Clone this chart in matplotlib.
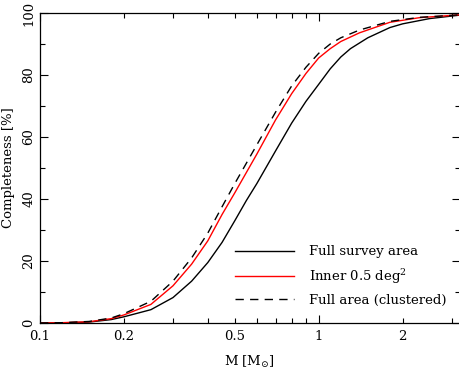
import matplotlib
matplotlib.use("Agg")
import matplotlib.pyplot as plt
from matplotlib.ticker import LogLocator, FixedLocator, FuncFormatter, MultipleLocator

plt.rcParams['font.family'] = ['DejaVu Serif']
plt.rcParams['mathtext.fontset'] = 'dejavuserif'

# Mass grid [Msun]
mass_full = [0.10, 0.12, 0.15, 0.18, 0.20, 0.25, 0.30, 0.35, 0.40, 0.45, 0.50, 0.55, 0.60,
             0.70, 0.80, 0.90, 1.0, 1.1, 1.2, 1.3, 1.5, 1.8, 2.0, 2.5, 3.2]
compl_full = [0.0, 0.05, 0.3, 1.1, 2.0, 4.3, 8.2, 13.5, 19.5, 26.0, 33.0, 39.5, 45.0,
              55.5, 64.5, 71.5, 77.0, 82.0, 85.8, 88.5, 92.0, 95.3, 96.5, 98.2, 99.3]

mass_inner = [0.10, 0.12, 0.15, 0.18, 0.20, 0.25, 0.30, 0.35, 0.40, 0.45, 0.50, 0.60,
              0.70, 0.80, 0.90, 1.0, 1.1, 1.2, 1.4, 1.8, 2.3, 3.2]
compl_inner = [0.0, 0.1, 0.4, 1.4, 2.6, 6.0, 12.0, 19.0, 26.5, 35.0, 42.0, 54.5,
               65.5, 74.0, 80.5, 85.5, 88.5, 90.8, 93.6, 97.0, 98.5, 99.4]

mass_clust = [0.10, 0.12, 0.15, 0.18, 0.20, 0.25, 0.30, 0.35, 0.40, 0.45, 0.50, 0.60,
              0.70, 0.80, 0.90, 1.0, 1.1, 1.2, 1.4, 1.8, 2.3, 3.2]
compl_clust = [0.0, 0.1, 0.5, 1.6, 3.0, 7.0, 13.5, 21.0, 29.0, 37.5, 45.0, 57.5,
               68.0, 76.5, 82.5, 87.0, 90.0, 92.0, 94.5, 97.3, 98.6, 99.4]

labels = ["Full survey area", r"Inner 0.5 deg$^2$", "Full area (clustered)"]
xtick_vals = [0.1, 0.2, 0.5, 1, 2]
xtick_labels = ["0.1", "0.2", "0.5", "1", "2"]
ytick_vals = [0, 20, 40, 60, 80, 100]

fig = plt.figure(figsize=(4.6, 3.71), dpi=100)
ax = fig.add_axes([40/460, 48/371, 419.5/460, 310/371])

ax.plot(mass_full, compl_full, color='black', lw=1.0, label=labels[0])
ax.plot(mass_inner, compl_inner, color='red', lw=1.0, label=labels[1])
ax.plot(mass_clust, compl_clust, color='black', lw=1.0, ls=(0, (6, 4.5)), label=labels[2])

ax.set_xscale('log')
ax.set_xlim(0.1, 3.2)
ax.set_ylim(0, 100)


def fmt(v, pos=None):
    for val, lab in zip(xtick_vals, xtick_labels):
        if abs(v - val) < 1e-6 * val:
            return lab
    return ""


ax.xaxis.set_major_locator(LogLocator(base=10, subs=[1.0]))
ax.xaxis.set_major_formatter(FuncFormatter(fmt))
ax.xaxis.set_minor_locator(LogLocator(base=10, subs=[2, 3, 4, 5, 6, 7, 8, 9]))
ax.xaxis.set_minor_formatter(FuncFormatter(fmt))
ax.yaxis.set_major_locator(FixedLocator(ytick_vals))
ax.yaxis.set_minor_locator(MultipleLocator(10))

ax.tick_params(which='both', direction='in', top=True, right=True, labelsize=9.5, width=0.8)
ax.tick_params(which='major', length=6)
ax.tick_params(which='minor', length=3.5)
ax.tick_params(axis='x', which='both', pad=5)
for lab in ax.get_yticklabels():
    lab.set_rotation(90)
    lab.set_va('center')
for s in ax.spines.values():
    s.set_linewidth(0.9)

ax.set_xlabel(r"M [M$_{\odot}$]", fontsize=9.5, labelpad=8)
ax.set_ylabel("Completeness [%]", fontsize=9.5, labelpad=5)

ax.legend(frameon=False, fontsize=9.5, loc='upper left',
          bbox_to_anchor=(0.465, 0.25), borderpad=0, borderaxespad=0,
          handlelength=4.5, handletextpad=1.1, labelspacing=0.62)

fig.savefig("out.png", dpi=100)
